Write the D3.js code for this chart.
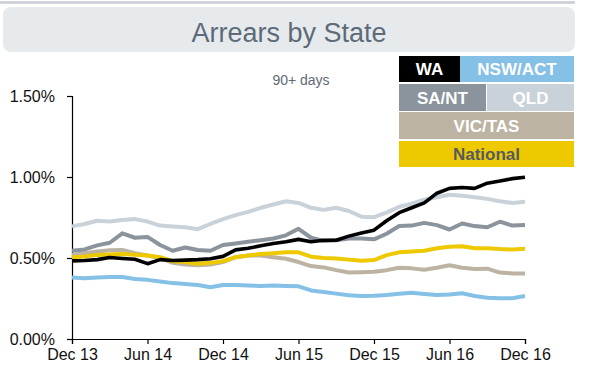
<!DOCTYPE html>
<html>
<head>
<meta charset="utf-8">
<script src="https://cdn.jsdelivr.net/npm/d3@7"></script>
<style>
  body { margin: 0; background: #fff; }
  svg { display: block; font-family: "Liberation Sans", Arial, sans-serif; }
</style>
</head>
<body>
<div id="chart"></div>
<script>
const months = [
  "Dec 13", "Jan 14", "Feb 14", "Mar 14", "Apr 14", "May 14", "Jun 14", "Jul 14", "Aug 14", "Sep 14", "Oct 14", "Nov 14",
  "Dec 14", "Jan 15", "Feb 15", "Mar 15", "Apr 15", "May 15", "Jun 15", "Jul 15", "Aug 15", "Sep 15", "Oct 15", "Nov 15",
  "Dec 15", "Jan 16", "Feb 16", "Mar 16", "Apr 16", "May 16", "Jun 16", "Jul 16", "Aug 16", "Sep 16", "Oct 16", "Nov 16",
  "Dec 16"
];
const xTicks = ["Dec 13", "Jun 14", "Dec 14", "Jun 15", "Dec 15", "Jun 16", "Dec 16"];
const yTicks = [0, 0.5, 1.0, 1.5];

// values in % (90+ days arrears)
const nswAct = [0.38, 0.375, 0.38, 0.382, 0.383, 0.37, 0.365, 0.355, 0.345, 0.34, 0.333, 0.32,
  0.333, 0.333, 0.33, 0.327, 0.33, 0.327, 0.325, 0.30, 0.29, 0.28, 0.27, 0.265,
  0.267, 0.272, 0.28, 0.285, 0.278, 0.272, 0.275, 0.282, 0.265, 0.255, 0.252, 0.252, 0.265];
const vicTas = [0.518, 0.53, 0.54, 0.548, 0.55, 0.53, 0.515, 0.50, 0.47, 0.46, 0.455, 0.46,
  0.475, 0.505, 0.515, 0.515, 0.505, 0.495, 0.475, 0.45, 0.442, 0.425, 0.41, 0.412,
  0.415, 0.425, 0.44, 0.436, 0.428, 0.44, 0.455, 0.44, 0.432, 0.434, 0.41, 0.405, 0.405];
const qld = [0.695, 0.71, 0.73, 0.725, 0.735, 0.74, 0.725, 0.70, 0.695, 0.69, 0.678, 0.71,
  0.74, 0.765, 0.785, 0.81, 0.83, 0.85, 0.84, 0.81, 0.797, 0.81, 0.79, 0.755,
  0.752, 0.78, 0.816, 0.835, 0.86, 0.875, 0.89, 0.885, 0.875, 0.865, 0.85, 0.84, 0.847];
const saNt = [0.545, 0.553, 0.578, 0.594, 0.652, 0.625, 0.63, 0.58, 0.545, 0.565, 0.549, 0.545,
  0.58, 0.59, 0.60, 0.61, 0.62, 0.64, 0.68, 0.625, 0.605, 0.61, 0.62, 0.62,
  0.615, 0.65, 0.697, 0.70, 0.717, 0.703, 0.676, 0.713, 0.697, 0.69, 0.724, 0.70, 0.703];
const national = [0.505, 0.51, 0.518, 0.522, 0.525, 0.52, 0.515, 0.505, 0.48, 0.475, 0.465, 0.47,
  0.48, 0.505, 0.515, 0.525, 0.53, 0.535, 0.535, 0.508, 0.50, 0.497, 0.49, 0.483,
  0.487, 0.518, 0.535, 0.54, 0.545, 0.56, 0.57, 0.572, 0.56, 0.56, 0.555, 0.552, 0.557];
const wa = [0.482, 0.485, 0.49, 0.503, 0.497, 0.492, 0.465, 0.49, 0.485, 0.487, 0.49, 0.495,
  0.51, 0.55, 0.56, 0.575, 0.59, 0.60, 0.615, 0.60, 0.61, 0.61, 0.635, 0.655,
  0.672, 0.73, 0.78, 0.81, 0.84, 0.90, 0.93, 0.935, 0.93, 0.962, 0.975, 0.99, 0.998];

const seriesNames = ["NSW/ACT", "VIC/TAS", "QLD", "SA/NT", "National", "WA"];
const seriesValues = [nswAct, vicTas, qld, saNt, national, wa];
const seriesColors = ["#85c0e6", "#bcb3a2", "#c9d1d9", "#8b939c", "#efc900", "#000000"];

const width = 593, height = 375;
const svg = d3.select("#chart").append("svg")
  .attr("width", width).attr("height", height);

// header
svg.append("line")
  .attr("x1", 0).attr("x2", 575).attr("y1", 2.5).attr("y2", 2.5)
  .attr("stroke", "#c6cdd4").attr("stroke-width", 2.5);
svg.append("rect")
  .attr("x", 3).attr("y", 7).attr("width", 572).attr("height", 45).attr("rx", 8)
  .attr("fill", "#e7eaed");
svg.append("text")
  .attr("x", 289).attr("y", 42).attr("text-anchor", "middle")
  .attr("font-size", 27).attr("fill", "#5d6a78")
  .text("Arrears by State");
svg.append("text")
  .attr("x", 301).attr("y", 85).attr("text-anchor", "middle")
  .attr("font-size", 14).attr("fill", "#5d6a78")
  .text("90+ days");

const x = d3.scalePoint().domain(months).range([72, 525]);
const y = d3.scaleLinear().domain([0, 1.5]).range([339, 96]);

svg.append("g")
  .attr("transform", "translate(72,0)")
  .call(d3.axisLeft(y).tickValues(yTicks).tickSize(5).tickPadding(12)
    .tickFormat(d => d.toFixed(2) + "%"))
  .call(g => g.selectAll("text").attr("font-size", 16).attr("fill", "#111"));

svg.append("g")
  .attr("transform", "translate(0,339)")
  .call(d3.axisBottom(x).tickValues(xTicks).tickSize(5).tickPadding(5))
  .call(g => g.selectAll("text").attr("font-size", 16).attr("fill", "#111"));

svg.selectAll(".domain, .tick line").attr("stroke", "#000").attr("stroke-width", 1.2);

const line = d3.line().x((d, i) => x(months[i])).y(d => y(d));

svg.append("g").selectAll("path")
  .data(seriesValues)
  .join("path")
  .attr("d", line)
  .attr("fill", "none")
  .attr("stroke", (d, i) => seriesColors[i])
  .attr("stroke-width", (d, i) => seriesNames[i] === "WA" ? 3.6 : 4)
  .attr("stroke-linejoin", "round");

// legend blocks
const legendCells = [
  { name: "WA", x: 399, y: 56, w: 61, h: 26 },
  { name: "NSW/ACT", x: 460, y: 56, w: 114, h: 26 },
  { name: "SA/NT", x: 399, y: 84, w: 87, h: 27 },
  { name: "QLD", x: 487, y: 84, w: 87, h: 27 },
  { name: "VIC/TAS", x: 399, y: 112, w: 175, h: 27 },
  { name: "National", x: 399, y: 141, w: 175, h: 26 }
];
const leg = svg.append("g").selectAll("g")
  .data(legendCells)
  .join("g");
leg.append("rect")
  .attr("x", d => d.x).attr("y", d => d.y)
  .attr("width", d => d.w).attr("height", d => d.h)
  .attr("fill", d => seriesColors[seriesNames.indexOf(d.name)]);
leg.append("text")
  .attr("x", d => d.x + d.w / 2).attr("y", d => d.y + d.h / 2 + 6)
  .attr("text-anchor", "middle")
  .attr("font-size", 17).attr("font-weight", "bold")
  .attr("fill", d => d.name === "National" ? "#555b60" : "#fff")
  .text(d => d.name);
</script>
</body>
</html>
